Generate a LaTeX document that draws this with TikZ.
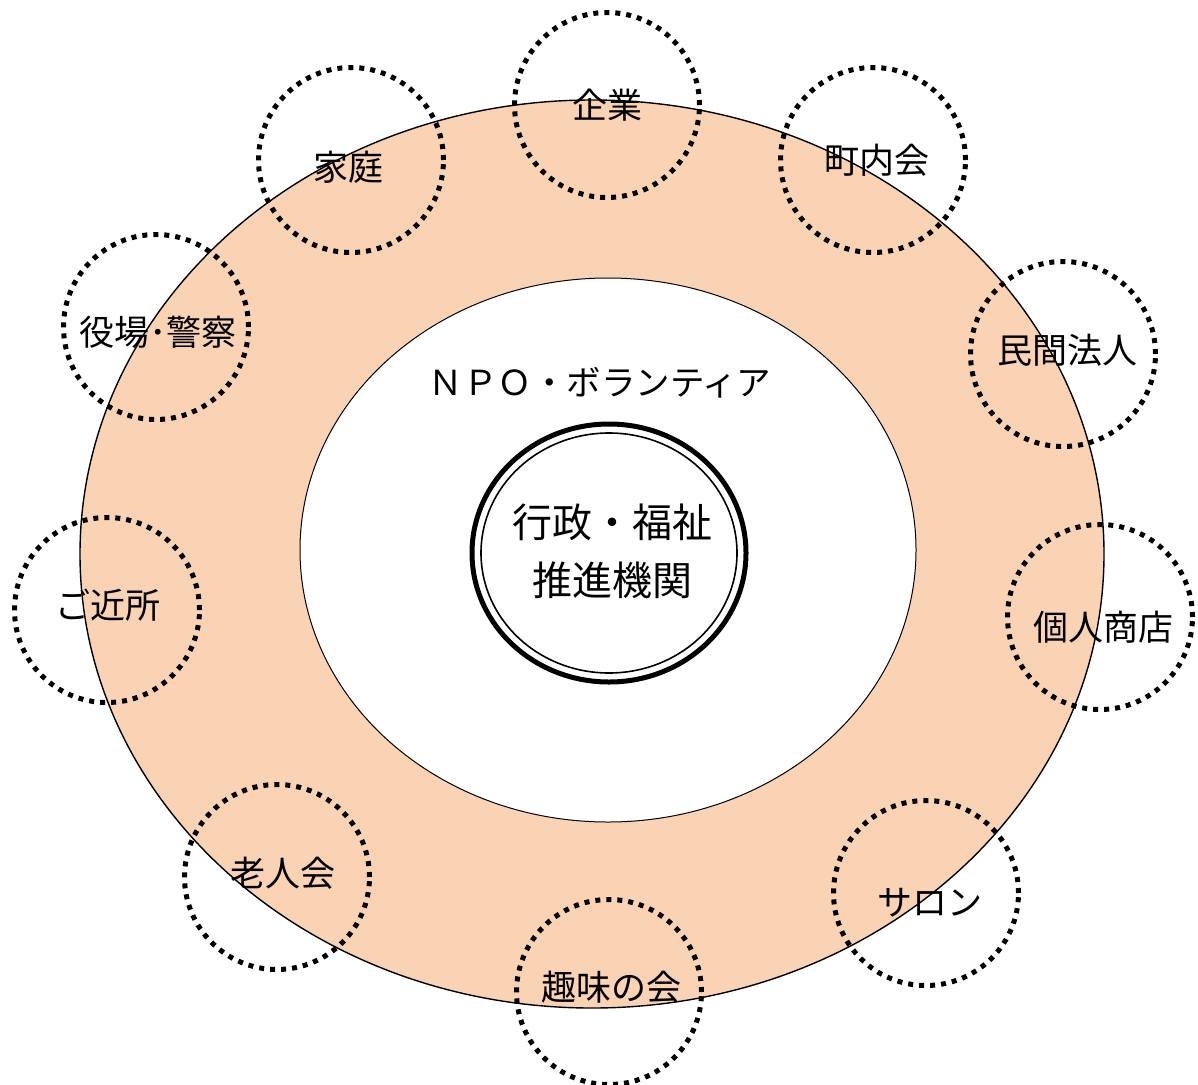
\documentclass[tikz,border=0pt]{standalone}
\usepackage{fontspec}
\usetikzlibrary{shapes.geometric}
\setmainfont{Noto Sans CJK JP}
\definecolor{peach}{HTML}{F9D3B4}
\begin{document}
\begin{tikzpicture}[x=1pt,y=-1pt,
  dotring/.style={draw=black,line width=5pt,dash pattern=on 5pt off 6pt,circle,minimum size=185pt,inner sep=0pt},
  lbl/.style={font=\fontsize{35}{38}\selectfont,inner sep=0pt,text=black}]
\useasboundingbox (0,0) rectangle (1198,1084);
\draw[fill=peach,line width=1.4pt] (592,554) ellipse [x radius=512, y radius=454];
\draw[fill=white,line width=1pt] (608,550) ellipse [x radius=308, y radius=272];
\node[draw,ellipse,line width=5pt,minimum width=274pt,minimum height=258pt,fill=white,inner sep=0pt] (center) at (609,553) {};
\draw[line width=1.6pt] (center.center) ellipse [x radius=128, y radius=120];
\node[font=\fontsize{40}{58}\selectfont,align=center,inner sep=0pt] (ctext) at (612,551) {行政・福祉\\推進機関};
\node[font=\fontsize{34.5}{38}\selectfont,inner sep=0pt] (npo) at (600,383) {ＮＰＯ・ボランティア};
% dotted circles
\node[dotring] (c1) at (607,105) {};
\node[dotring] (c2) at (351,160) {};
\node[dotring] (c3) at (873,160) {};
\node[dotring] (c4) at (156,327) {};
\node[dotring] (c5) at (1063,354) {};
\node[dotring] (c6) at (107,610) {};
\node[dotring] (c7) at (1100,617) {};
\node[dotring] (c8) at (277,877) {};
\node[dotring] (c9) at (926,893) {};
\node[dotring] (c10) at (609,992) {};
% labels
\node[lbl] (t1) at (607,105) {企業};
\node[lbl] (t2) at (348,167) {家庭};
\node[lbl] (t3) at (877,160) {町内会};
\node[lbl] (t4) at (158,332) {役場･警察};
\node[lbl] (t5) at (1067,350) {民間法人};
\node[lbl] (t6) at (108,605) {ご近所};
\node[lbl] (t7) at (1103,627) {個人商店};
\node[lbl] (t8) at (283,873) {老人会};
\node[lbl] (t9) at (930,903) {サロン};
\node[lbl] (t10) at (611,987) {趣味の会};
\end{tikzpicture}
\end{document}
